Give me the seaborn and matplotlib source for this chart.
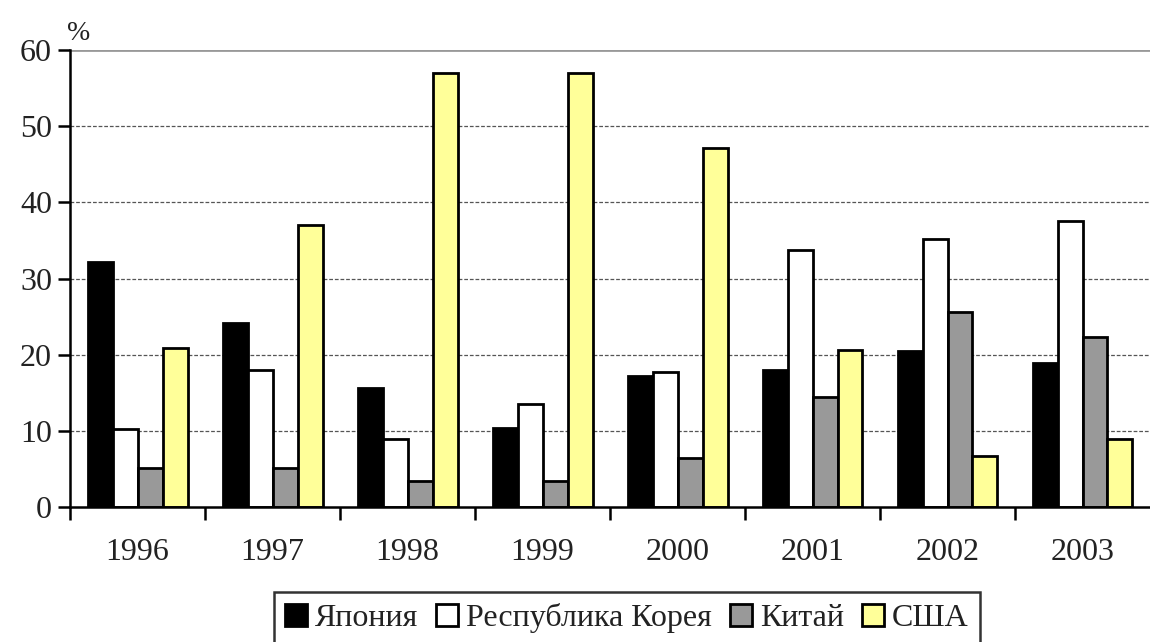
import pandas as pd
import numpy as np
import seaborn as sns
import matplotlib.pyplot as plt

# Data (%)
years = ['1996', '1997', '1998', '1999', '2000', '2001', '2002', '2003']
countries = ['Япония', 'Республика Корея', 'Китай', 'США']
japan = [32.2, 24.2, 15.7, 10.4, 17.2, 18.0, 20.5, 18.9]
korea = [10.3, 18.0, 8.9, 13.6, 17.8, 33.7, 35.2, 37.5]
china = [5.1, 5.1, 3.5, 3.5, 6.4, 14.4, 25.6, 22.4]
usa = [20.9, 37.0, 57.0, 57.0, 47.2, 20.6, 6.7, 8.9]
colors = ['#000000', '#ffffff', '#999999', '#ffff99']

df = pd.DataFrame({'Год': years * 4,
                   'Страна': np.repeat(countries, len(years)),
                   'Значение': japan + korea + china + usa})

sns.set_style("white")
plt.rcParams['font.family'] = ['Liberation Serif', 'DejaVu Serif']

fig = plt.figure(figsize=(11.5, 6.42), dpi=100)
ax = fig.add_axes([0.061, 0.21, 0.939, 0.712])

sns.barplot(x='Год', y='Значение', hue='Страна', data=df, palette=colors,
            saturation=1, width=0.74, edgecolor='black', linewidth=2, ax=ax)

ax.set_ylim(0, 60)
ax.set_xlim(-0.5, 7.5)
ax.set_yticks(range(0, 61, 10))
ax.set_xlabel('')
ax.set_ylabel('')

# dashed grid, solid grey line at the top
for v in range(10, 60, 10):
    ax.axhline(v, color='#555555', linestyle=(0, (3, 1.5)), linewidth=0.9, zorder=0)
ax.axhline(60, color='#999999', linewidth=2, zorder=0)

for side in ['top', 'right']:
    ax.spines[side].set_visible(False)
for side in ['left', 'bottom']:
    ax.spines[side].set_color('black')
    ax.spines[side].set_linewidth(1.8)

# x ticks sit at group boundaries, labels at centres
ax.set_xticks(np.arange(-0.5, 7.5, 1))
ax.set_xticklabels([])
ax.set_xticks(range(len(years)), minor=True)
ax.set_xticklabels(years, minor=True, fontsize=23, color='#222222')
ax.tick_params(axis='x', which='major', bottom=True, direction='out', length=9,
               width=1.8, color='black')
ax.tick_params(axis='x', which='minor', bottom=True, length=0, pad=22)
ax.tick_params(axis='y', left=True, direction='out', length=9, width=1.8, color='black',
               labelsize=23, labelcolor='#222222', pad=4)

ax.text(-0.003, 1.01, '%', transform=ax.transAxes, fontsize=20, color='#222222',
        ha='left', va='bottom')

handles, labels = ax.get_legend_handles_labels()
ax.get_legend().remove()
leg = fig.legend(handles, labels, loc='upper center', bbox_to_anchor=(0.545, 0.078),
                 ncol=4, fontsize=23, frameon=True, fancybox=False, edgecolor='black',
                 handlelength=0.7, handleheight=0.7, handletextpad=0.25,
                 columnspacing=0.55, borderpad=0.35, borderaxespad=0)
leg.get_frame().set_linewidth(1.8)
for t in leg.get_texts():
    t.set_color('#222222')

plt.savefig('out.png', dpi=100)
